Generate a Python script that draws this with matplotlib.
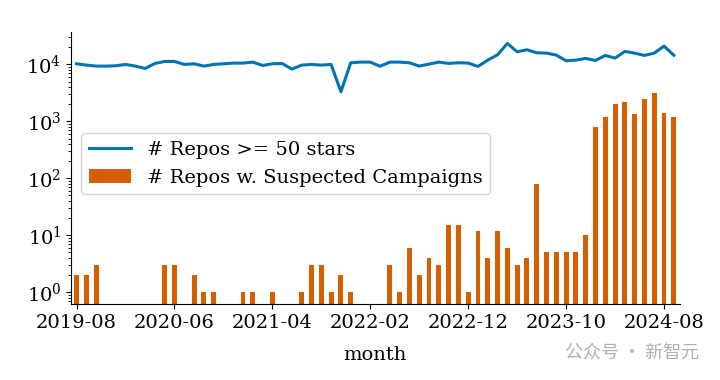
import numpy as np
import matplotlib
matplotlib.use("Agg")
import matplotlib.pyplot as plt

# monthly counts, 2019-08 .. 2024-09
repos_50_stars = [
    10270, 9730, 9350, 9350, 9470, 10000, 9350, 8500, 10410, 11290,
    11290, 10000, 10270, 9350, 10000, 10270, 10550, 10550, 10990, 9600,
    10270, 10410, 8280, 9730, 10000, 9730, 10000, 3310, 10700, 10990,
    10990, 9300, 10990, 10990, 10700, 9350, 10140, 10990, 10420, 10700,
    10560, 9220, 11920, 14790, 23400, 16700, 18100, 16030, 15810, 14590,
    11600, 11920, 12750, 11760, 14390, 12920, 16930, 15810, 14390, 15810,
    21000, 14500,
]
suspected = [
    2, 2, 3, 0, 0, 0, 0, 0, 0, 3,
    3, 0, 2, 1, 1, 0, 0, 1, 1, 0,
    1, 0, 0, 1, 3, 3, 1, 2, 1, 0,
    0, 0, 3, 1, 6, 2, 4, 3, 15, 15,
    1, 12, 4, 12, 6, 3, 4, 80, 5, 5,
    5, 5, 10, 800, 1200, 2050, 2150, 1330, 2520, 3150,
    1420, 1180,
]
tick_pos = [0, 10, 20, 30, 40, 50, 60]
tick_labels = ['2019-08', '2020-06', '2021-04', '2022-02', '2022-12', '2023-10', '2024-08']

plt.rcParams['font.family'] = 'DejaVu Serif'
plt.rcParams['mathtext.fontset'] = 'dejavuserif'

fig = plt.figure(figsize=(7.2, 3.8), dpi=100)
ax = fig.add_axes([0.0986, 0.199, 0.8454, 0.7176])

x = np.arange(len(suspected))
ax.plot(x, repos_50_stars, color='#0173B2', lw=2.2, label='# Repos >= 50 stars')
ax.bar(x, suspected, width=0.5, color='#D55E00', label='# Repos w. Suspected Campaigns')

ax.set_yscale('log')
ax.set_ylim(0.61, 37600)
ax.set_xlim(-0.57, 61.6)
ax.set_xticks(tick_pos)
ax.set_xticklabels(tick_labels)
ax.tick_params(labelsize=14)
ax.set_xlabel('month', fontsize=14, labelpad=10)
ax.spines['top'].set_visible(False)
ax.spines['right'].set_visible(False)

ax.legend(loc='upper left', bbox_to_anchor=(0.016, 0.628), borderaxespad=0,
          fontsize=14, handlelength=2.2)

fig.text(0.878, 0.073, '公众号 · 新智元', fontsize=13, color='#b0b0b0',
         family=['Noto Sans CJK SC', 'DejaVu Sans'], ha='center', va='center')

fig.savefig('out.png', dpi=100)
